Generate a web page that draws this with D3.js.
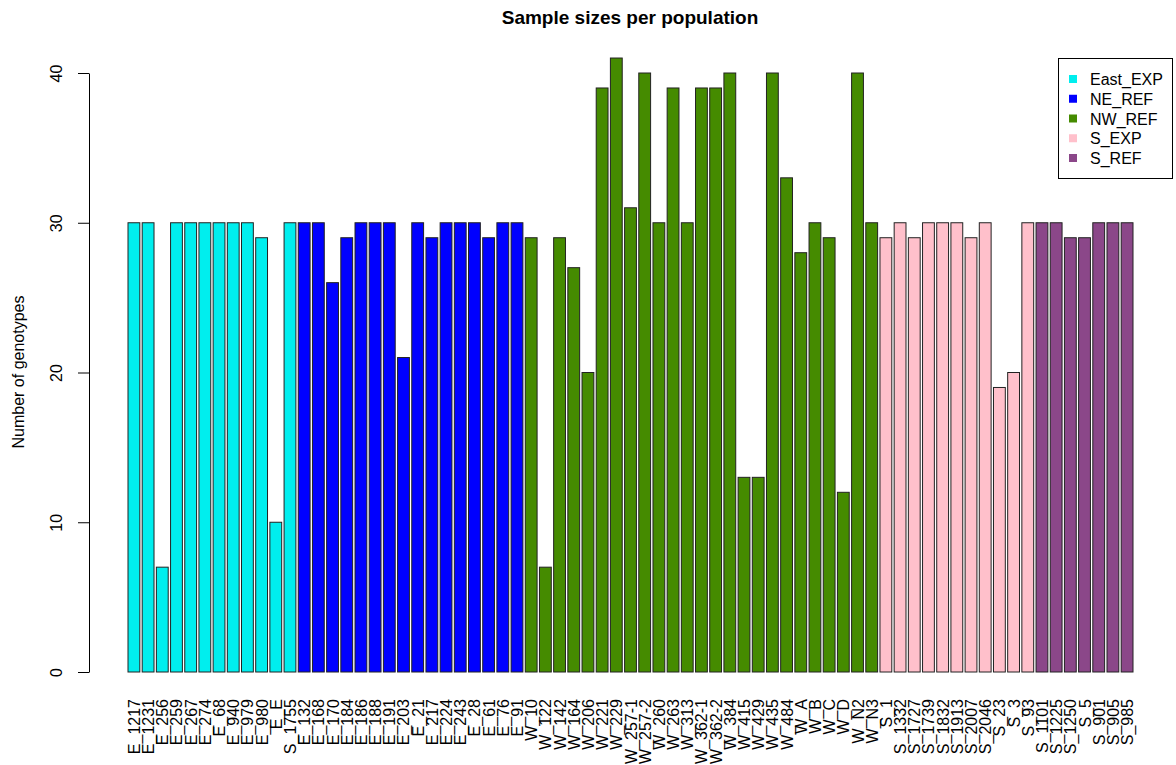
<!DOCTYPE html>
<html>
<head>
<meta charset="utf-8">
<script src="https://cdn.jsdelivr.net/npm/d3@7"></script>
<style>
  body { margin: 0; background: #fff; }
  text { font-family: "Liberation Sans", Arial, sans-serif; }
</style>
</head>
<body>
<div id="chart"></div>
<script>
// Populations (bar labels), in plotting order.
const populations = [
  "E_1217", "E_1231", "E_256", "E_259", "E_267", "E_274", "E_68", "E_940", "E_979", "E_980", "E_E", "S_1755",
  "E_132", "E_168", "E_170", "E_184", "E_186", "E_188", "E_191", "E_203", "E_21", "E_217", "E_224", "E_243", "E_28", "E_61", "E_76", "E_91",
  "W_10", "W_122", "W_142", "W_164", "W_206", "W_221", "W_229", "W_257-1", "W_257-2", "W_260", "W_263", "W_313", "W_362-1", "W_362-2", "W_384",
  "W_415", "W_429", "W_435", "W_484", "W_A", "W_B", "W_C", "W_D", "W_N2", "W_N3",
  "S_1", "S_1332", "S_1727", "S_1739", "S_1832", "S_1913", "S_2007", "S_2046", "S_23", "S_3", "S_93",
  "S_1101", "S_1225", "S_1250", "S_5", "S_901", "S_905", "S_985"
];

// Number of genotypes for each population.
const counts = [
  30, 30, 7, 30, 30, 30, 30, 30, 30, 29, 10, 30,
  30, 30, 26, 29, 30, 30, 30, 21, 30, 29, 30, 30, 30, 29, 30, 30,
  29, 7, 29, 27, 20, 39, 41, 31, 40, 30, 39, 30, 39, 39, 40,
  13, 13, 40, 33, 28, 30, 29, 12, 40, 30,
  29, 30, 29, 30, 30, 30, 29, 30, 19, 20, 30,
  30, 30, 29, 29, 30, 30, 30
];

// Group of each population.
const groups = [].concat(
  Array(12).fill("East_EXP"),
  Array(16).fill("NE_REF"),
  Array(25).fill("NW_REF"),
  Array(11).fill("S_EXP"),
  Array(7).fill("S_REF")
);

const groupNames = ["East_EXP", "NE_REF", "NW_REF", "S_EXP", "S_REF"];
const groupColors = ["#00EEEE", "#0000FF", "#458B00", "#FFC0CB", "#8B4789"];
const yTicks = [0, 10, 20, 30, 40];

const data = populations.map((p, i) => ({name: p, value: counts[i], group: groups[i]}));

const width = 1176;
const height = 765;

const svg = d3.select("#chart")
  .append("svg")
    .attr("width", width)
    .attr("height", height);

// Scales: bars like R barplot (space = 0.2).
const x = d3.scaleBand()
  .domain(populations)
  .range([128, 1133])
  .paddingInner(0.2 / 1.2)
  .paddingOuter(0);

const y = d3.scaleLinear()
  .domain([0, 40])
  .range([672, 73]);

const color = d3.scaleOrdinal(groupNames, groupColors);

// Bars
svg.append("g")
  .selectAll("rect")
  .data(data)
  .join("rect")
    .attr("x", d => x(d.name))
    .attr("y", d => y(d.value))
    .attr("width", x.bandwidth())
    .attr("height", d => y(0) - y(d.value))
    .attr("fill", d => color(d.group))
    .attr("stroke", "#222")
    .attr("stroke-width", 1);

// Y axis (R style: line spans the tick range, vertical tick labels)
const yAxis = svg.append("g")
  .attr("transform", "translate(89,0)")
  .call(d3.axisLeft(y).tickValues(yTicks).tickSize(11).tickSizeOuter(0));
yAxis.select(".domain").attr("stroke", "#000");
yAxis.selectAll(".tick line").attr("stroke", "#000");
yAxis.selectAll(".tick text")
  .attr("x", null).attr("dy", null)
  .attr("transform", "translate(-27,0) rotate(-90)")
  .attr("text-anchor", "middle")
  .attr("font-size", 16)
  .attr("fill", "#000");

// X labels, perpendicular to axis
svg.append("g")
  .selectAll("text")
  .data(data)
  .join("text")
    .attr("transform", d => `translate(${x(d.name) + x.bandwidth() / 2 + 6},699) rotate(-90)`)
    .attr("text-anchor", "end")
    .attr("font-size", 16)
    .attr("fill", "#000")
    .text(d => d.name);

// Y axis title
svg.append("text")
  .attr("transform", "translate(24,372) rotate(-90)")
  .attr("text-anchor", "middle")
  .attr("font-size", 16)
  .text("Number of genotypes");

// Title
svg.append("text")
  .attr("x", 630)
  .attr("y", 24)
  .attr("text-anchor", "middle")
  .attr("font-size", 19)
  .attr("font-weight", "bold")
  .text("Sample sizes per population");

// Legend
const legend = svg.append("g");
legend.append("rect")
  .attr("x", 1058.5).attr("y", 58.5)
  .attr("width", 114).attr("height", 120)
  .attr("fill", "#fff").attr("stroke", "#000");

const item = legend.selectAll("g")
  .data(groupNames)
  .join("g")
    .attr("transform", (d, i) => `translate(0,${79 + i * 19.75})`);
item.append("rect")
  .attr("x", 1069).attr("y", -4)
  .attr("width", 8).attr("height", 8)
  .attr("fill", d => color(d));
item.append("text")
  .attr("x", 1090).attr("y", 6)
  .attr("font-size", 16)
  .text(d => d);
</script>
</body>
</html>
